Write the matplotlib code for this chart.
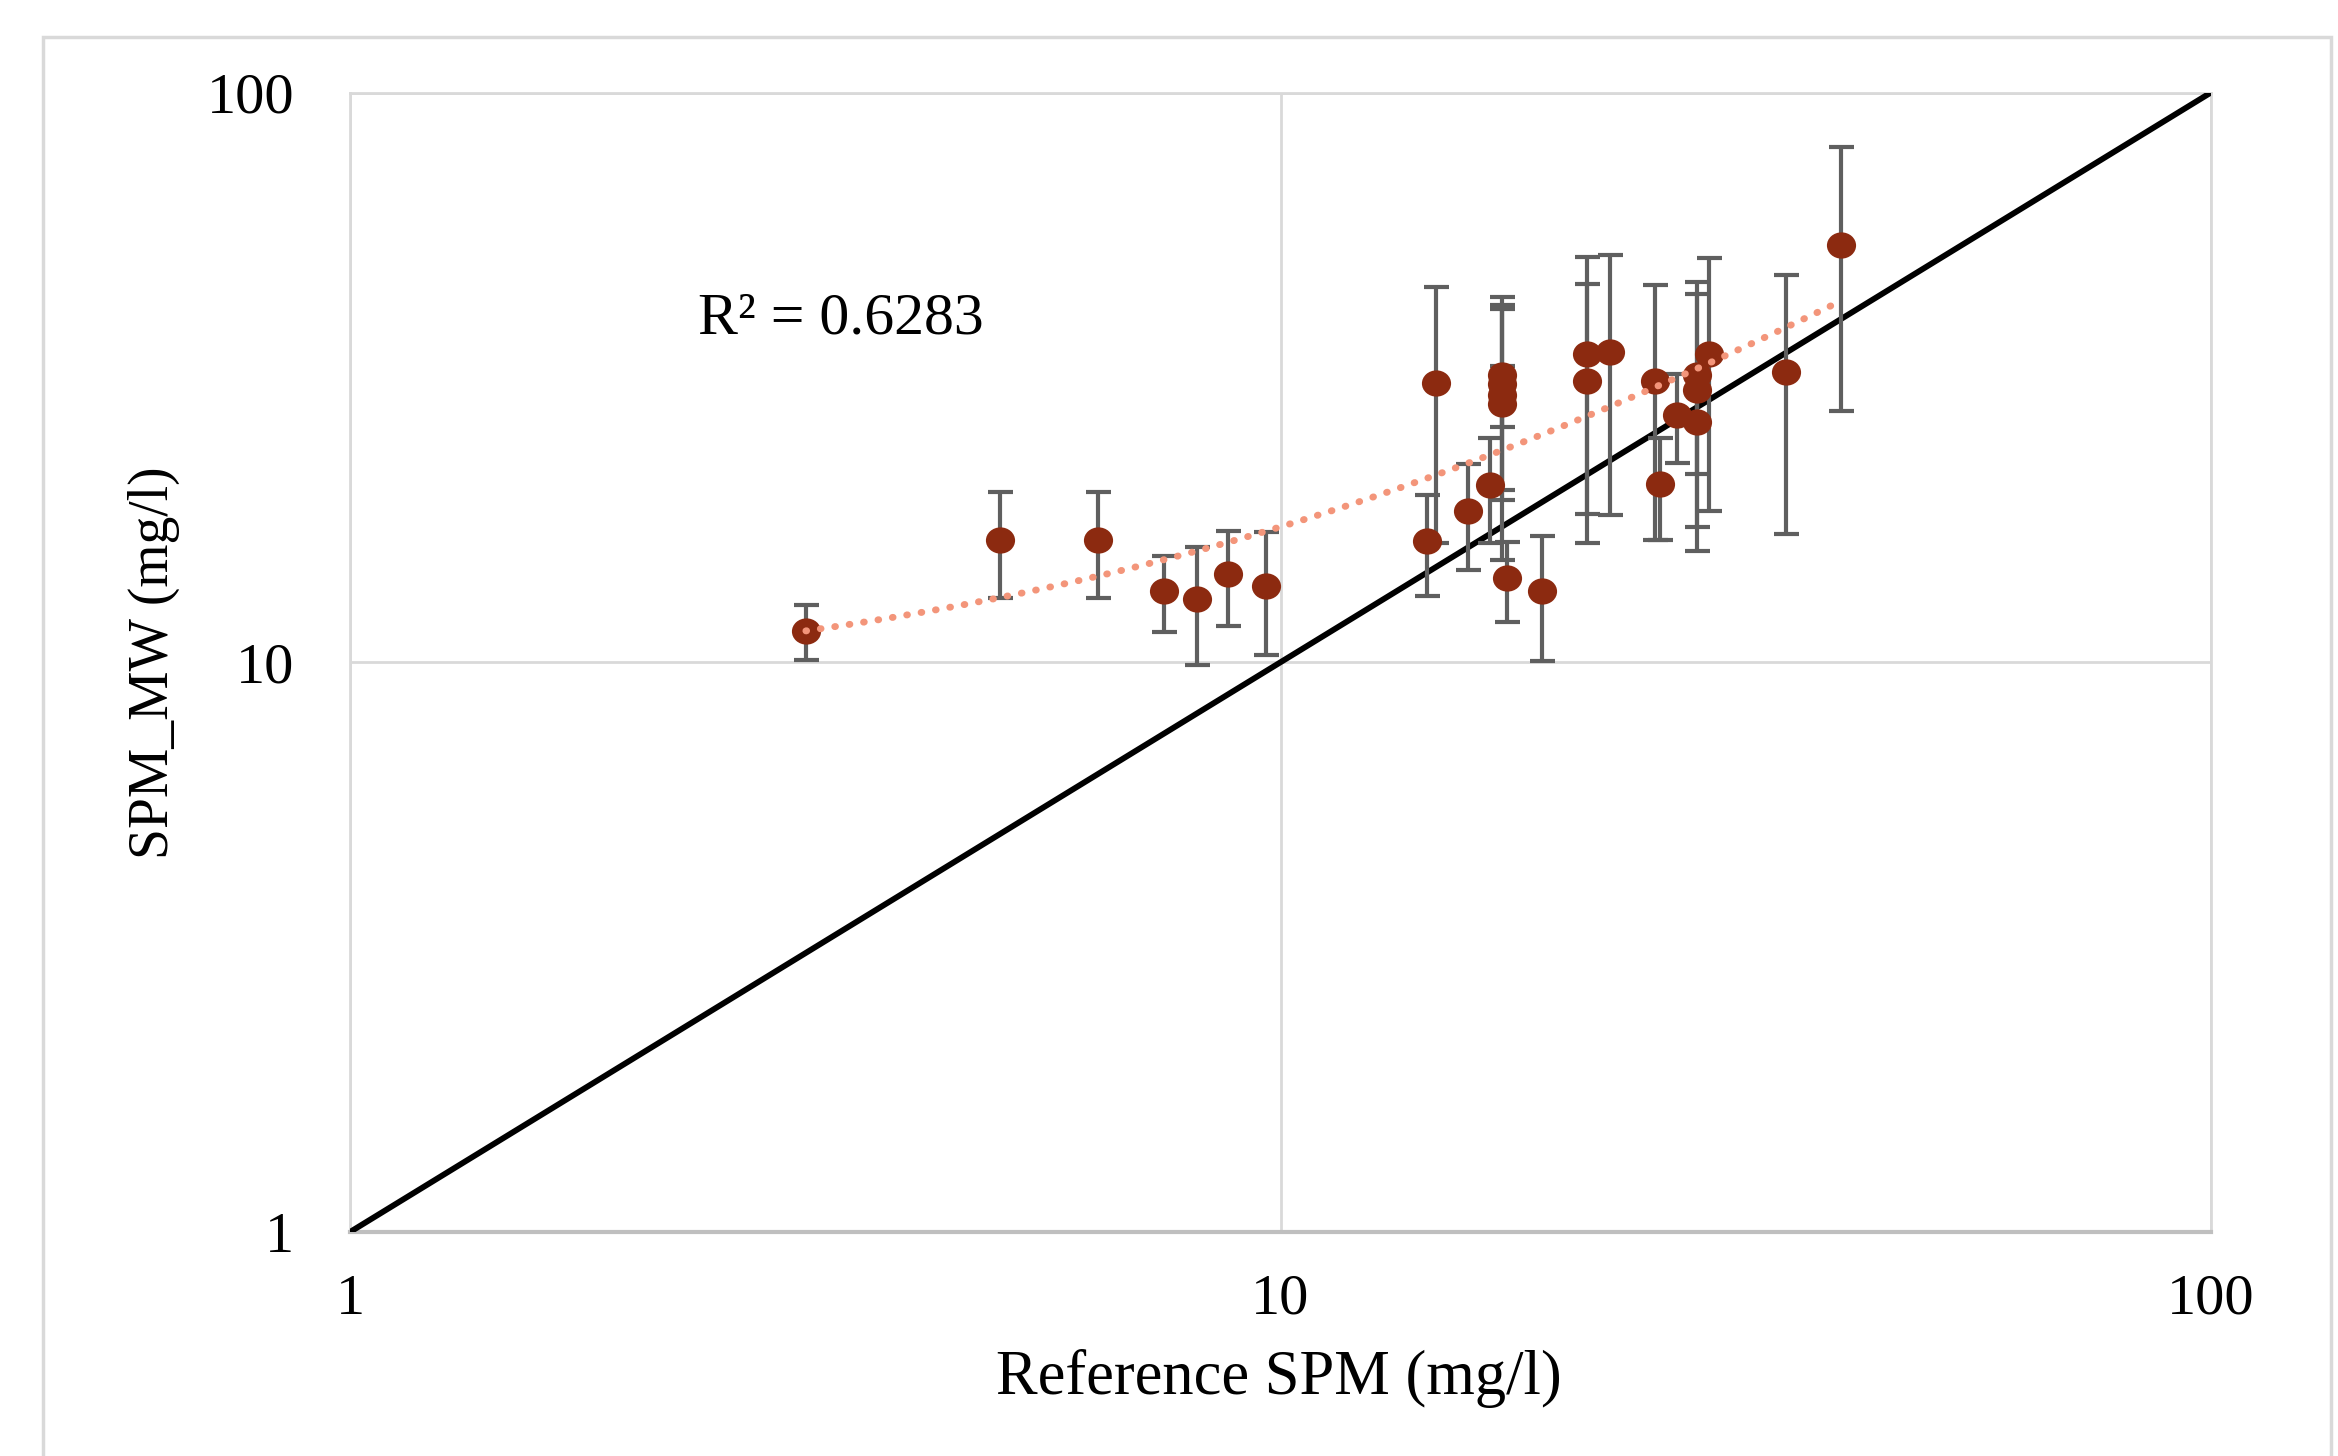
import numpy as np
import matplotlib
matplotlib.use("Agg")
import matplotlib.pyplot as plt
from matplotlib.patches import Rectangle
from matplotlib.path import Path
from matplotlib.transforms import Affine2D

# ---- data ----
ref_spm = [3.09, 5.0, 6.37, 7.49, 8.14, 8.78, 9.65, 14.38, 14.68, 15.92, 16.8,
           17.3, 17.3, 17.3, 17.3, 17.5, 19.1, 21.33, 21.33, 22.6, 25.26, 25.58,
           26.66, 28.0, 28.0, 28.0, 28.9, 34.95, 40.0]
spm_mw = [11.34, 16.4, 16.4, 13.33, 12.92, 14.3, 13.6, 16.35, 30.9, 18.4, 20.5,
          31.9, 30.8, 29.5, 28.4, 14.04, 13.36, 34.8, 31.2, 35.0, 31.2, 20.56,
          27.2, 31.9, 30.0, 26.4, 34.8, 32.3, 53.9]
spm_err = [1.24, 3.46, 3.46, 2.05, 3.03, 2.7, 3.3, 3.3, 14.7, 3.9, 4.3,
           11.8, 11.5, 3.6, 13.3, 2.25, 3.3, 16.6, 15.0, 16.9, 14.8, 4.2,
           4.8, 14.6, 14.3, 5.0, 16.4, 15.5, 26.3]
one_to_one = [1, 100]
tick_vals = [1, 10, 100]
tick_labels = ["1", "10", "100"]
r2_text = "R\u00b2 = 0.6283"
x_label = "Reference SPM (mg/l)"
y_label = "SPM_MW (mg/l)"

plt.rcParams['font.family'] = ['Liberation Serif', 'DejaVu Serif']

W, H = 2338, 1456
fig = plt.figure(figsize=(W / 100, H / 100), dpi=100)
fig.patch.set_facecolor('white')

# outer chart border
fig.patches.append(Rectangle((43 / W, -0.05), (2331 - 43) / W, 1.05 - 37 / H,
                             transform=fig.transFigure, fill=False,
                             edgecolor='#d9d9d9', linewidth=2.5, zorder=0))

ax = fig.add_axes([350 / W, 1 - 1232 / H, (2211 - 350) / W, (1232 - 92.5) / H])
ax.set_xscale('log')
ax.set_yscale('log')
ax.set_xlim(1, 100)
ax.set_ylim(1, 100)

ax.grid(True, which='major', color='#d9d9d9', linewidth=2)
ax.set_axisbelow(True)
for side in ['top', 'right', 'left']:
    ax.spines[side].set_color('#d9d9d9')
    ax.spines[side].set_linewidth(2)
ax.spines['bottom'].set_color('#bfbfbf')
ax.spines['bottom'].set_linewidth(3)

ax.set_xticks(tick_vals)
ax.set_xticklabels(tick_labels)
ax.set_yticks(tick_vals)
ax.set_yticklabels(tick_labels)
ax.xaxis.set_minor_locator(matplotlib.ticker.NullLocator())
ax.yaxis.set_minor_locator(matplotlib.ticker.NullLocator())
ax.tick_params(axis='both', which='both', length=0, labelsize=42, colors='black')
ax.tick_params(axis='x', pad=30)
ax.tick_params(axis='y', pad=40)

# 1:1 line
ax.plot(one_to_one, one_to_one, color='black', linewidth=4.2, zorder=3)

# error bars + points (slightly wide elliptical markers)
ellipse = Path.unit_circle().transformed(Affine2D().scale(1.0, 0.9))
ax.errorbar(ref_spm, spm_mw, yerr=spm_err, fmt='none', ecolor='#5f5f5f',
            elinewidth=3, capsize=9, capthick=3, zorder=4)
ax.plot(ref_spm, spm_mw, linestyle='none', marker=ellipse, color='#8c2a10',
        markersize=21, markeredgewidth=0, zorder=5)

# linear trendline (fitted from data), drawn over the data range
xs = np.array(ref_spm)
coef = np.polyfit(xs, np.array(spm_mw), 1)
xt = np.linspace(xs.min(), xs.max(), 200)
ax.plot(xt, np.polyval(coef, xt), linestyle=(0, (0.1, 2.0)), color='#f3957a',
        linewidth=5, dash_capstyle='round', zorder=6)

ax.text(698 / W, 1 - 320 / H, r2_text, transform=fig.transFigure,
        fontsize=43, ha='left', va='center')

fig.text(1279 / W, 1 - 1379 / H, x_label, fontsize=45, ha='center', va='center')
fig.text(154 / W, 1 - 663 / H, y_label, fontsize=40, ha='center', va='center',
         rotation=90)

fig.savefig('out.png', dpi=100, facecolor='white')
